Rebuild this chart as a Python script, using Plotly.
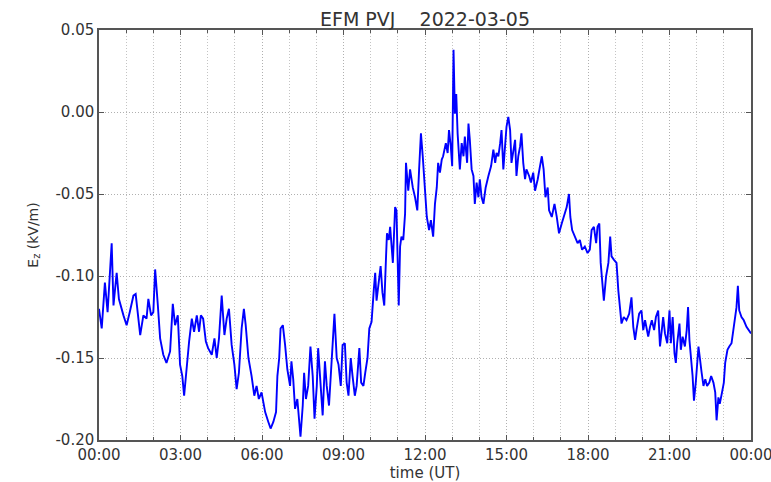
import plotly.graph_objects as go

# time in minutes after 00:00 UT
minutes = [
    0, 6, 13, 19, 28, 32, 39, 44, 54, 61, 68, 76, 81, 87, 91, 98, 105, 109, 115, 120,
    124, 130, 135, 142, 149, 157, 163, 168, 174, 179, 184, 188, 194, 199, 205, 210, 216, 221, 225, 230,
    236, 241, 249, 255, 260, 265, 271, 277, 282, 287, 293, 299, 304, 309, 315, 320, 324, 330, 337, 343,
    348, 353, 359, 367, 374, 379, 385, 391, 394, 398, 401, 406, 411, 416, 422, 425, 429, 433, 438, 442,
    445, 450, 453, 457, 462, 467, 472, 476, 481, 484, 490, 494, 499, 503, 508, 512, 516, 520, 525, 529,
    534, 538, 543, 547, 551, 556, 560, 565, 569, 575, 579, 584, 588, 593, 597, 602, 607, 610, 613, 618,
    622, 626, 630, 634, 636, 640, 643, 649, 652, 654, 657, 659, 662, 665, 668, 672, 676, 678, 683, 687,
    693, 698, 703, 707, 711, 715, 719, 724, 729, 733, 738, 742, 746, 749, 753, 757, 760, 766, 770, 773,
    777, 780, 783, 786, 789, 792, 797, 801, 805, 808, 813, 816, 819, 823, 827, 830, 834, 838, 841, 845,
    849, 854, 860, 866, 871, 875, 878, 882, 886, 889, 893, 897, 900, 904, 908, 911, 915, 919, 922, 926,
    930, 933, 937, 941, 944, 950, 954, 959, 963, 969, 974, 978, 982, 986, 991, 994, 1000, 1006, 1011, 1016,
    1022, 1028, 1033, 1038, 1041, 1045, 1051, 1057, 1062, 1067, 1073, 1079, 1084, 1088, 1093, 1098, 1101, 1105, 1108, 1112,
    1115, 1120, 1125, 1129, 1132, 1137, 1143, 1147, 1151, 1154, 1159, 1165, 1171, 1176, 1180, 1184, 1187, 1193, 1198, 1202,
    1206, 1210, 1213, 1217, 1221, 1226, 1230, 1235, 1239, 1243, 1246, 1250, 1255, 1260, 1263, 1267, 1271, 1274, 1277, 1282,
    1285, 1289, 1294, 1298, 1301, 1304, 1307, 1311, 1314, 1318, 1324, 1327, 1331, 1335, 1339, 1343, 1348, 1352, 1357, 1361,
    1364, 1368, 1371, 1376, 1380, 1383, 1388, 1392, 1397, 1401, 1405, 1408, 1411, 1414, 1419, 1424, 1430, 1436, 1440,
]

# vertical electric field Ez (kV/m)
ez = [
    -0.120, -0.132, -0.104, -0.122, -0.080, -0.118, -0.098, -0.114, -0.124, -0.130, -0.122, -0.112, -0.111, -0.126, -0.136, -0.124, -0.126, -0.114, -0.124, -0.122,
    -0.096, -0.118, -0.138, -0.148, -0.153, -0.146, -0.117, -0.130, -0.124, -0.154, -0.161, -0.173, -0.154, -0.140, -0.126, -0.134, -0.124, -0.134, -0.124, -0.126,
    -0.140, -0.144, -0.148, -0.138, -0.150, -0.138, -0.112, -0.136, -0.126, -0.120, -0.142, -0.154, -0.169, -0.159, -0.132, -0.120, -0.130, -0.150, -0.161, -0.173,
    -0.167, -0.175, -0.171, -0.183, -0.189, -0.193, -0.189, -0.183, -0.161, -0.150, -0.132, -0.130, -0.142, -0.157, -0.167, -0.152, -0.163, -0.181, -0.175, -0.187,
    -0.198, -0.179, -0.159, -0.175, -0.167, -0.143, -0.161, -0.187, -0.167, -0.144, -0.167, -0.185, -0.152, -0.167, -0.179, -0.161, -0.146, -0.123, -0.150, -0.154,
    -0.167, -0.142, -0.141, -0.165, -0.173, -0.150, -0.161, -0.173, -0.167, -0.144, -0.165, -0.167, -0.159, -0.150, -0.132, -0.128, -0.108, -0.098, -0.115, -0.104,
    -0.094, -0.110, -0.118, -0.088, -0.074, -0.078, -0.070, -0.092, -0.075, -0.058, -0.060, -0.085, -0.118, -0.082, -0.076, -0.078, -0.062, -0.031, -0.048, -0.035,
    -0.046, -0.052, -0.060, -0.035, -0.013, -0.027, -0.043, -0.064, -0.072, -0.066, -0.076, -0.056, -0.046, -0.031, -0.037, -0.029, -0.027, -0.019, -0.025, -0.011,
    -0.021, -0.033, 0.038, -0.001, 0.011, -0.013, -0.035, -0.019, -0.027, -0.015, -0.031, -0.007, -0.017, -0.035, -0.039, -0.056, -0.043, -0.052, -0.041, -0.052,
    -0.056, -0.046, -0.039, -0.033, -0.023, -0.031, -0.025, -0.027, -0.019, -0.011, -0.035, -0.017, -0.009, -0.003, -0.011, -0.031, -0.023, -0.017, -0.039, -0.027,
    -0.021, -0.013, -0.031, -0.041, -0.035, -0.039, -0.043, -0.037, -0.048, -0.041, -0.033, -0.027, -0.035, -0.052, -0.046, -0.060, -0.064, -0.056, -0.064, -0.074,
    -0.068, -0.062, -0.058, -0.050, -0.064, -0.072, -0.076, -0.080, -0.078, -0.084, -0.082, -0.086, -0.084, -0.072, -0.070, -0.080, -0.070, -0.068, -0.092, -0.106,
    -0.115, -0.100, -0.092, -0.076, -0.088, -0.090, -0.092, -0.109, -0.121, -0.129, -0.125, -0.127, -0.123, -0.113, -0.131, -0.139, -0.133, -0.123, -0.121, -0.133,
    -0.127, -0.133, -0.137, -0.131, -0.127, -0.133, -0.125, -0.121, -0.143, -0.133, -0.125, -0.135, -0.141, -0.121, -0.141, -0.125, -0.147, -0.153, -0.141, -0.129,
    -0.145, -0.137, -0.143, -0.133, -0.119, -0.139, -0.147, -0.161, -0.176, -0.165, -0.143, -0.151, -0.159, -0.167, -0.163, -0.167, -0.165, -0.161, -0.165, -0.171,
    -0.188, -0.174, -0.178, -0.171, -0.165, -0.153, -0.145, -0.143, -0.141, -0.133, -0.125, -0.119, -0.106, -0.121, -0.125, -0.127, -0.131, -0.133, -0.135,
]

x_tick_vals = [0, 180, 360, 540, 720, 900, 1080, 1260, 1440]
x_tick_text = ["00:00", "03:00", "06:00", "09:00", "12:00", "15:00", "18:00", "21:00", "00:00"]
y_tick_vals = [0.05, 0.00, -0.05, -0.10, -0.15, -0.20]
y_tick_text = ["0.05", "0.00", "-0.05", "-0.10", "-0.15", "-0.20"]
hour_lines = list(range(0, 1441, 60))

font_family = "DejaVu Sans, Arial, sans-serif"
axis_color = "#555555"
text_color = "#333333"
grid_dash = "1px,2px"

fig = go.Figure()
fig.add_trace(go.Scatter(
    x=minutes, y=ez, mode="lines",
    line=dict(color="#0000ff", width=1.9),
    showlegend=False, hoverinfo="skip",
))

fig.update_layout(
    width=771, height=482,
    margin=dict(l=99, r=20, t=30, b=42, autoexpand=False),
    paper_bgcolor="white", plot_bgcolor="white",
    font=dict(family=font_family, size=15, color=text_color),
    title=dict(text="EFM PVJ    2022-03-05", x=425 / 771, xref="container", xanchor="center",
               y=1 - 19 / 482, yref="container", yanchor="middle",
               font=dict(size=19, color=text_color), automargin=False),
)

fig.update_xaxes(
    range=[0, 1440], automargin=False, ticklabeloverflow="allow",
    tickmode="array", tickvals=x_tick_vals, ticktext=x_tick_text,
    ticks="inside", ticklen=5, tickcolor=axis_color,
    showline=True, linecolor=axis_color, linewidth=1.5, mirror="ticks",
    showgrid=True, gridcolor="#b0b0b0", griddash=grid_dash, gridwidth=1,
    minor=dict(tickmode="array", tickvals=hour_lines, ticks="inside", ticklen=3,
               tickcolor=axis_color, showgrid=True, gridcolor="#c4c4c4",
               griddash=grid_dash, gridwidth=1),
    zeroline=False,
    tickfont=dict(size=15, color=text_color),
    title=dict(text="time (UT)", font=dict(size=15, color=text_color), standoff=2),
)

fig.update_yaxes(
    range=[-0.20, 0.05], automargin=False, ticklabeloverflow="allow",
    tickmode="array", tickvals=y_tick_vals, ticktext=y_tick_text,
    ticks="inside", ticklen=5, tickcolor=axis_color,
    showline=True, linecolor=axis_color, linewidth=1.5, mirror="ticks",
    showgrid=True, gridcolor="#b0b0b0", griddash=grid_dash, gridwidth=1,
    zeroline=False,
    tickfont=dict(size=15, color=text_color),
    title=dict(text="E<sub>z</sub> (kV/m)", font=dict(size=14, color=text_color), standoff=14),
)

fig.write_html(
    "out.html",
    config={"displayModeBar": False},
    post_script="document.body.style.margin='0';document.body.style.padding='0';",
)
